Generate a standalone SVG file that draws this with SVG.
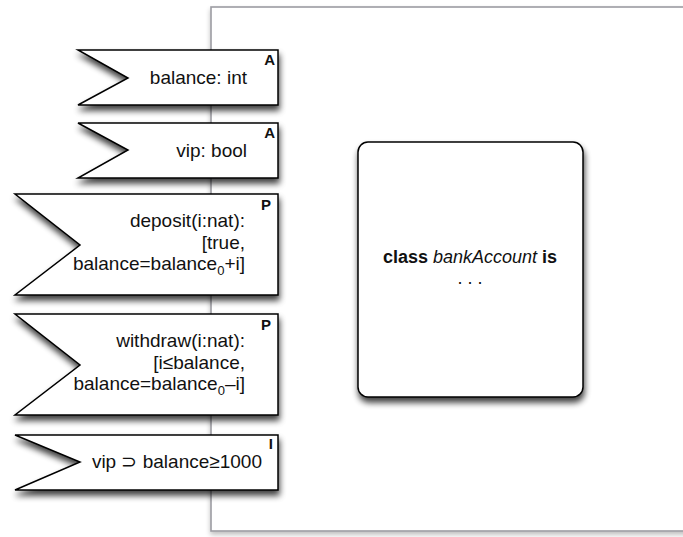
<svg xmlns="http://www.w3.org/2000/svg" width="683" height="537" viewBox="0 0 683 537">
  <defs>
    <filter id="shadow" x="-20%" y="-20%" width="150%" height="160%">
      <feGaussianBlur in="SourceAlpha" stdDeviation="3"/>
      <feOffset dx="1" dy="5" result="b"/>
      <feComponentTransfer><feFuncA type="linear" slope="0.75"/></feComponentTransfer>
      <feMerge><feMergeNode/><feMergeNode in="SourceGraphic"/></feMerge>
    </filter>
    <filter id="soft" x="-5%" y="-5%" width="110%" height="110%">
      <feGaussianBlur in="SourceAlpha" stdDeviation="2.5"/>
      <feOffset dx="0" dy="3"/>
      <feComponentTransfer><feFuncA type="linear" slope="0.25"/></feComponentTransfer>
      <feMerge><feMergeNode/><feMergeNode in="SourceGraphic"/></feMerge>
    </filter>
  </defs>
  <style>
    .tag { fill: #fff; stroke: #000; stroke-width: 1.5; filter: url(#shadow); }
    .txt { font-family: "Liberation Sans", Arial, sans-serif; font-size: 19px; fill: #111; text-anchor: end; }
    .kind { font-family: "Liberation Sans", Arial, sans-serif; font-size: 15px; font-weight: bold; fill: #111; text-anchor: end; }
    .sub { font-size: 13px; }
  </style>
  <rect width="683" height="537" fill="#fff"/>

  <!-- class frame -->
  <g id="frame">
    <rect x="211" y="7" width="490" height="524" fill="#fff" stroke="#9c9ca2" stroke-width="1.6" filter="url(#soft)"/>
  </g>

  <g id="class-box">
    <rect x="358" y="142" width="225" height="255" rx="10" ry="10" fill="#fff" stroke="#000" stroke-width="1.5" filter="url(#shadow)"/>
    <text x="470" y="263" font-family="Liberation Sans, Arial, sans-serif" font-size="18" text-anchor="middle" fill="#111"><tspan font-weight="bold">class</tspan> <tspan font-style="italic">bankAccount</tspan> <tspan font-weight="bold">is</tspan></text>
    <text x="470" y="284" font-family="Liberation Sans, Arial, sans-serif" font-size="18" text-anchor="middle" fill="#111">. . .</text>
  </g>

  <g id="attr-balance">
    <path class="tag" d="M78,50 H278 V105 H78 L128,78 Z"/>
    <text class="kind" x="275" y="65">A</text>
    <text class="txt" x="247" y="84">balance: int</text>
  </g>

  <g id="attr-vip">
    <path class="tag" d="M78,123 H278 V178 H78 L128,150 Z"/>
    <text class="kind" x="275" y="138">A</text>
    <text class="txt" x="247" y="157">vip: bool</text>
  </g>

  <g id="proc-deposit">
    <path class="tag" d="M15,194 H278 V295 H15 L80,245 Z"/>
    <text class="kind" x="271" y="210">P</text>
    <text class="txt" x="245" y="227">deposit(i:nat):</text>
    <text class="txt" x="245" y="249">[true,</text>
    <text class="txt" x="245" y="270">balance=balance<tspan class="sub" dy="5">0</tspan><tspan dy="-5">+i]</tspan></text>
  </g>

  <g id="proc-withdraw">
    <path class="tag" d="M15,314 H278 V415 H15 L80,365 Z"/>
    <text class="kind" x="271" y="330">P</text>
    <text class="txt" x="245" y="347">withdraw(i:nat):</text>
    <text class="txt" x="245" y="369">[i≤balance,</text>
    <text class="txt" x="245" y="390">balance=balance<tspan class="sub" dy="5">0</tspan><tspan dy="-5">–i]</tspan></text>
  </g>

  <g id="inv-vip">
    <path class="tag" d="M15,435 H278 V490 H15 L80,462 Z"/>
    <text class="kind" x="273" y="449">I</text>
    <text class="txt" x="262" y="468">vip ⊃ balance≥1000</text>
  </g>

  <g id="connectors"/>
</svg>
